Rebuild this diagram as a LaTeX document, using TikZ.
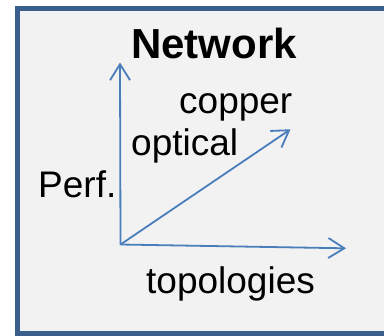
\documentclass[tikz,border=0pt]{standalone}
\usepackage{fontspec}
\setmainfont{Liberation Sans}
\usetikzlibrary{arrows.meta}
\definecolor{frameblue}{HTML}{3A5F8E}
\definecolor{panelgray}{HTML}{F2F2F2}
\definecolor{axisblue}{HTML}{4A7EBB}
\tikzset{
  axis/.style={draw=axisblue, line width=1.8bp, -{Straight Barb[length=16bp,width=20bp,line width=1.8bp]}},
  lbl/.style={anchor=base west, inner sep=0pt, font=\fontsize{37bp}{40bp}\selectfont},
  ttl/.style={anchor=base west, inner sep=0pt, font=\fontsize{42bp}{46bp}\selectfont\bfseries}
}
\begin{document}
\begin{tikzpicture}[x=1bp,y=-1bp]
\useasboundingbox (0,0) rectangle (384,336);
\begin{scope}
\clip (0,0) rectangle (384,336);
\draw[frameblue, fill=panelgray, line width=5bp] (17.5,8) rectangle (420,333);
\end{scope}
\coordinate (o) at (120.5,244.5);
\coordinate (up) at (120,62.5);
\coordinate (rt) at (346,248.3);
\coordinate (dg) at (290.5,129.3);
\draw[axis] (o) -- (up);
\draw[axis] (o) -- (rt);
\draw[axis] (o) -- (dg);
\node[ttl] (net) at (131,58.3) {Network};
\node[lbl] (cu) at (179,113) {copper};
\node[lbl] (op) at (131,155) {optical};
\node[lbl] (pf) at (38,197.3) {Perf.};
\node[lbl] (tp) at (146,293) {topologies};
\end{tikzpicture}
\end{document}
